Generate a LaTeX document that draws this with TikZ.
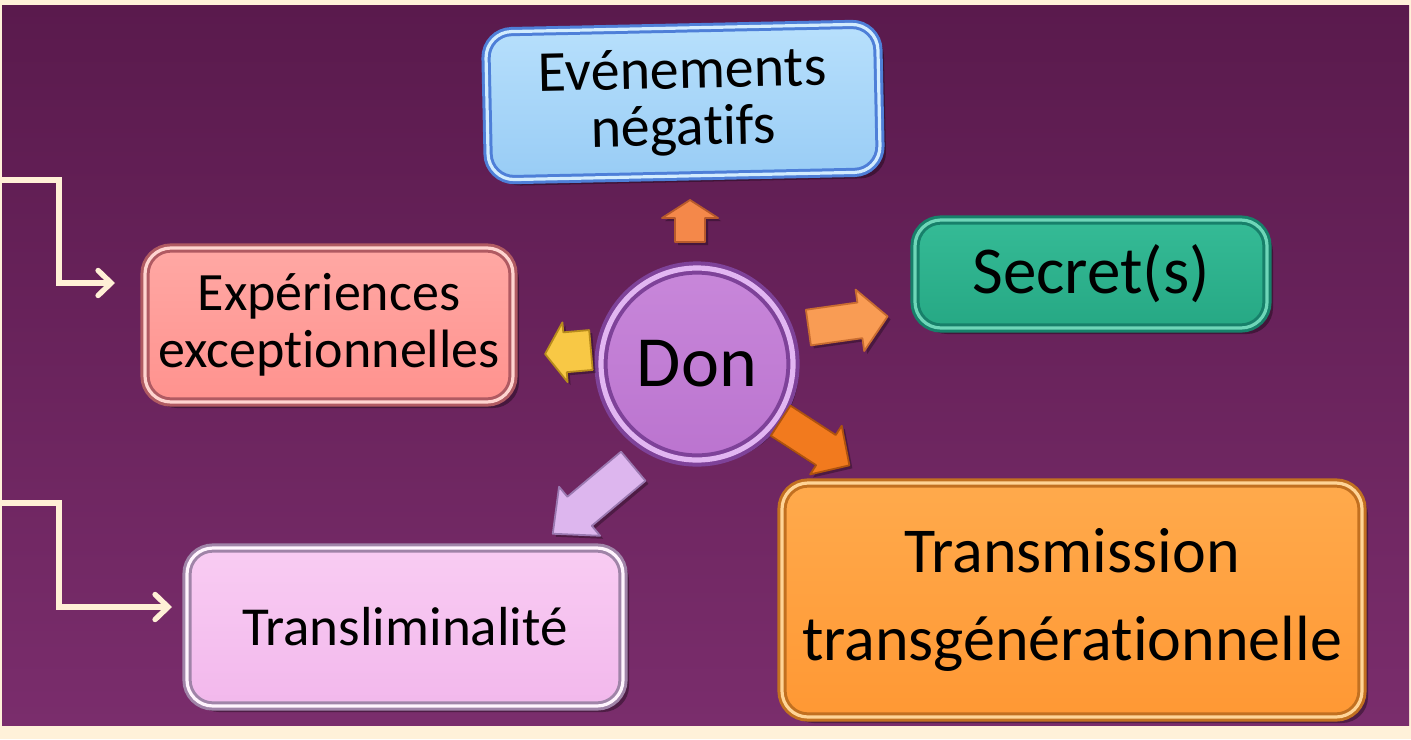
\documentclass[tikz,border=0pt]{standalone}
\usepackage{fontspec}
\setmainfont{Carlito}[Ligatures={NoCommon,NoRare,NoContextual}]
\usetikzlibrary{arrows.meta,shadows,calc}
\definecolor{framecol}{HTML}{FFF1D9}
\definecolor{bgtop}{HTML}{5A1A4D}
\definecolor{bgbot}{HTML}{7A2D6C}
\definecolor{conncol}{HTML}{FFF0D6}
% box colours: border, light, top, bottom
\definecolor{bluB}{HTML}{4E7FD8}\definecolor{bluL}{HTML}{D2ECFE}\definecolor{bluT}{HTML}{B8E0FC}\definecolor{bluD}{HTML}{98CCF5}
\definecolor{teaB}{HTML}{17806A}\definecolor{teaL}{HTML}{6ED6B8}\definecolor{teaT}{HTML}{35BB96}\definecolor{teaD}{HTML}{26A884}
\definecolor{salB}{HTML}{B05A62}\definecolor{salL}{HTML}{FFD4D0}\definecolor{salT}{HTML}{FFA8A4}\definecolor{salD}{HTML}{FF928E}
\definecolor{pnkB}{HTML}{A084A8}\definecolor{pnkL}{HTML}{FFF4FD}\definecolor{pnkT}{HTML}{F9CCF3}\definecolor{pnkD}{HTML}{F2B8EC}
\definecolor{orgB}{HTML}{C27020}\definecolor{orgL}{HTML}{FFD496}\definecolor{orgT}{HTML}{FFAA4C}\definecolor{orgD}{HTML}{FF9834}
\definecolor{donB}{HTML}{7E4299}\definecolor{donL}{HTML}{E2B6F2}\definecolor{donT}{HTML}{C887DA}\definecolor{donD}{HTML}{BB74CF}
% arrow colours
\definecolor{aUpF}{HTML}{F4884A}\definecolor{aUpE}{HTML}{B85A2C}
\definecolor{aRtF}{HTML}{F99C54}\definecolor{aRtE}{HTML}{C86C30}
\definecolor{aYlF}{HTML}{F8C845}\definecolor{aYlE}{HTML}{B88C1C}
\definecolor{aDrF}{HTML}{F27A1E}\definecolor{aDrE}{HTML}{AE520E}
\definecolor{aDlF}{HTML}{DDB6EE}\definecolor{aDlE}{HTML}{9A78B0}
\tikzset{
  gbox/.style n args={4}{draw=#1, line width=1.5pt, double=#2, double distance=1.6pt,
    top color=#3, bottom color=#4, rounded corners=13pt, inner sep=0pt, align=center,
    text=black, drop shadow={shadow xshift=3pt, shadow yshift=-3pt, opacity=0.35, fill=black}},
  donstyle/.style={circle, draw=donB, line width=2pt, double=donL, double distance=2.6pt,
    top color=donT, bottom color=donD, inner sep=0pt, minimum size=96pt,
    font={\fontsize{36}{36}\selectfont},
    drop shadow={shadow xshift=3pt, shadow yshift=-2pt, opacity=0.45, fill=black}},
  blockarr/.style={line width=0.9pt, line join=round,
    drop shadow={shadow xshift=1.5pt, shadow yshift=-1.5pt, opacity=0.3, fill=black}},
  conn/.style={draw=conncol, line width=2.7pt, line join=miter,
    -{Straight Barb[length=6.5pt, width=12.5pt, line cap=round]}},
}
\newcommand\myblockarrow[9]{%
  \draw[blockarr, fill=#8, draw=#9, shift={(#1,#2)}, rotate=#3]
    (-#4/2,-#7/2) -- ({#4/2-#5},-#7/2) -- ({#4/2-#5},-#6/2) -- (#4/2,0)
    -- ({#4/2-#5},#6/2) -- ({#4/2-#5},#7/2) -- (-#4/2,#7/2) -- cycle;}
\begin{document}
\begin{tikzpicture}[x=0.5pt,y=-0.5pt]
\useasboundingbox (0,0) rectangle (1411,739);
\fill[framecol] (0,0) rectangle (1411,739);
\shade[top color=bgtop, bottom color=bgbot] (2,5) rectangle (1409,725);

% boxes
\node[gbox={bluB}{bluL}{bluT}{bluD}, minimum width=196pt, minimum height=74pt, rotate=1.2,
  font={\fontsize{29}{28.5}\selectfont}] (neg) at (683,102) {Evénements\\négatifs};
\node[gbox={teaB}{teaL}{teaT}{teaD}, minimum width=176pt, minimum height=54pt,
  font={\fontsize{33.5}{33.5}\selectfont}] (sec) at (1091,274) {Secret(s)};
\node[gbox={salB}{salL}{salT}{salD}, minimum width=184pt, minimum height=77pt,
  font={\fontsize{27}{28.5}\selectfont}] (exp) at (329,325) {Expériences\\exceptionnelles};
\node[gbox={pnkB}{pnkL}{pnkT}{pnkD}, minimum width=218pt, minimum height=79pt,
  font={\fontsize{27.5}{27.5}\selectfont}] (tra) at (405,627) {Transliminalité};
\node[gbox={orgB}{orgL}{orgT}{orgD}, minimum width=290pt, minimum height=117pt,
  font={\fontsize{32}{44}\selectfont}] (trg) at (1072,600) {Transmission\\transgénérationnelle};

% centre
\node[donstyle] (don) at (697,364) {Don};

% block arrows: x y rot L H W S fill edge
\myblockarrow{690}{221}{90}{42}{18}{56}{30}{aUpF}{aUpE}
\myblockarrow{848}{322}{8}{80}{28}{62}{36}{aRtF}{aRtE}
\myblockarrow{568}{352}{185}{46}{20}{60}{40}{aYlF}{aYlE}
\myblockarrow{815}{443}{-33}{82}{28}{58}{36}{aDrF}{aDrE}
\myblockarrow{593}{500}{-140}{105}{35}{64}{38}{aDlF}{aDlE}

% cream elbow connectors
\coordinate (s1) at (0,180);
\coordinate (e1) at (115,283);
\coordinate (s2) at (0,503);
\coordinate (e2) at (172,607);
\draw[conn] (s1) -| ([xshift=-28pt]e1) -- (e1);
\draw[conn] (s2) -| ([xshift=-56.5pt]e2) -- (e2);
\end{tikzpicture}
\end{document}
